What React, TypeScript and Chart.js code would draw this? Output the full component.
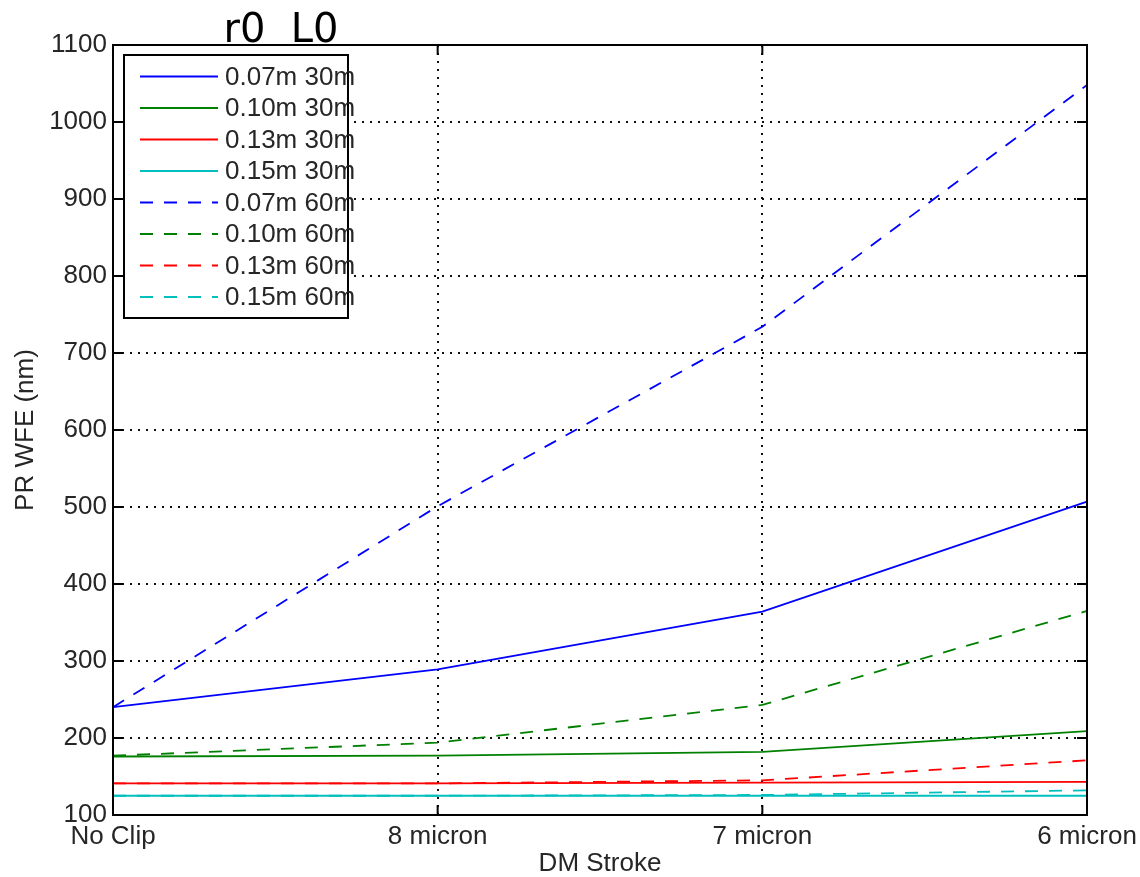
import React, { useEffect, useRef } from "react";
import { Chart, registerables } from "chart.js";

Chart.register(...registerables);

const categories = ["No Clip", "8 micron", "7 micron", "6 micron"];
const yTicks = [100, 200, 300, 400, 500, 600, 700, 800, 900, 1000, 1100];

const r007L30 = [240, 289, 364, 507];
const r010L30 = [176, 177, 182, 209];
const r013L30 = [141, 141, 142, 143];
const r015L30 = [125, 125, 125, 125];
const r007L60 = [240, 501, 734, 1048];
const r010L60 = [177, 194, 243, 365];
const r013L60 = [141, 141, 145, 171];
const r015L60 = [125, 125, 126, 132];

const seriesNames = [
  "0.07m 30m",
  "0.10m 30m",
  "0.13m 30m",
  "0.15m 30m",
  "0.07m 60m",
  "0.10m 60m",
  "0.13m 60m",
  "0.15m 60m",
];
const seriesData = [r007L30, r010L30, r013L30, r015L30, r007L60, r010L60, r013L60, r015L60];
const seriesColors = ["#0000ff", "#008000", "#ff0000", "#00bfbf", "#0000ff", "#008000", "#ff0000", "#00bfbf"];
const seriesDashed = [false, false, false, false, true, true, true, true];

const DASH = [13, 11];
const GRID_DASH = [2, 6];
const FONT = "'Liberation Sans', Arial, sans-serif";
const TEXT = "#262626";

const boxPlugin = {
  id: "matlabBox",
  afterDraw(chart: any) {
    const { ctx, chartArea } = chart;
    const { left, right, top, bottom } = chartArea;
    const xs = chart.scales.x;
    const ys = chart.scales.y;
    ctx.save();
    ctx.strokeStyle = "#000";
    ctx.lineWidth = 2;
    ctx.setLineDash([]);
    ctx.strokeRect(left, top, right - left, bottom - top);
    const tl = 10;
    ctx.beginPath();
    ys.ticks.forEach((t: any) => {
      const y = ys.getPixelForValue(t.value);
      ctx.moveTo(left, y);
      ctx.lineTo(left + tl, y);
      ctx.moveTo(right, y);
      ctx.lineTo(right - tl, y);
    });
    categories.forEach((_c, i) => {
      const x = xs.getPixelForValue(i);
      ctx.moveTo(x, bottom);
      ctx.lineTo(x, bottom - tl);
      ctx.moveTo(x, top);
      ctx.lineTo(x, top + tl);
    });
    ctx.stroke();

    // legend
    const lx = 124, ly = 55, lw = 224, lh = 263;
    ctx.fillStyle = "#fff";
    ctx.fillRect(lx, ly, lw, lh);
    ctx.strokeStyle = "#000";
    ctx.lineWidth = 2;
    ctx.strokeRect(lx, ly, lw, lh);
    ctx.font = `26px ${FONT}`;
    ctx.textBaseline = "middle";
    ctx.textAlign = "left";
    seriesNames.forEach((name, i) => {
      const y = 76.5 + i * 31.5;
      ctx.strokeStyle = seriesColors[i];
      ctx.lineWidth = 2;
      ctx.setLineDash(seriesDashed[i] ? DASH : []);
      ctx.beginPath();
      ctx.moveTo(140, y);
      ctx.lineTo(218, y);
      ctx.stroke();
      ctx.setLineDash([]);
      ctx.fillStyle = TEXT;
      ctx.fillText(name, 225, y + 1);
    });

    // title
    ctx.fillStyle = "#000";
    ctx.font = "40px 'DejaVu Sans', sans-serif";
    ctx.textAlign = "center";
    ctx.textBaseline = "alphabetic";
    ctx.fillText("r0  L0", 281, 42);
    ctx.restore();
  },
};

export default function App() {
  const ref = useRef<HTMLCanvasElement | null>(null);

  useEffect(() => {
    document.body.style.margin = "0";
    if (!ref.current) return;
    const chart = new Chart(ref.current, {
      type: "line",
      data: {
        labels: categories,
        datasets: seriesData.map((d, i) => ({
          label: seriesNames[i],
          data: d,
          borderColor: seriesColors[i],
          backgroundColor: seriesColors[i],
          borderWidth: 1.8,
          borderDash: seriesDashed[i] ? DASH : [],
          pointRadius: 0,
          tension: 0,
          fill: false,
        })),
      },
      options: {
        animation: false,
        responsive: false,
        maintainAspectRatio: false,
        layout: { padding: { top: 45, right: 53, bottom: 0, left: 0 } },
        plugins: {
          legend: { display: false },
          title: { display: false },
          tooltip: { enabled: false },
        },
        scales: {
          x: {
            type: "category",
            offset: false,
            afterFit: (s: any) => {
              s.height = 62;
              s.paddingLeft = 0;
              s.paddingRight = 0;
            },
            grid: { display: true, color: "#111", lineWidth: 2, drawTicks: false },
            border: { display: true, color: "#000", width: 2, dash: GRID_DASH },
            ticks: {
              color: TEXT,
              font: { family: FONT, size: 26 },
              padding: 6,
              maxRotation: 0,
              autoSkip: false,
            },
            title: {
              display: true,
              text: "DM Stroke",
              color: TEXT,
              font: { family: FONT, size: 26, lineHeight: 1 },
              padding: { top: 0, bottom: 0 },
            },
          },
          y: {
            type: "linear",
            min: 100,
            max: 1100,
            afterFit: (s: any) => {
              s.width = 113;
              s.paddingTop = 0;
              s.paddingBottom = 0;
            },
            afterBuildTicks: (s: any) => {
              s.ticks = yTicks.map((v) => ({ value: v }));
            },
            grid: { display: true, color: "#111", lineWidth: 2, drawTicks: false },
            border: { display: true, color: "#000", width: 2, dash: GRID_DASH },
            ticks: {
              color: TEXT,
              font: { family: FONT, size: 26 },
              padding: 6,
              callback: (v: any) => String(v),
            },
            title: {
              display: true,
              text: "PR WFE (nm)",
              color: TEXT,
              font: { family: FONT, size: 26, lineHeight: 1.2 },
              padding: { top: 10, bottom: 0 },
            },
          },
        },
      },
      plugins: [boxPlugin],
    } as any);
    return () => chart.destroy();
  }, []);

  return (
    <div style={{ width: 1140, height: 877 }}>
      <canvas ref={ref} width={1140} height={877} style={{ display: "block" }} />
    </div>
  );
}
